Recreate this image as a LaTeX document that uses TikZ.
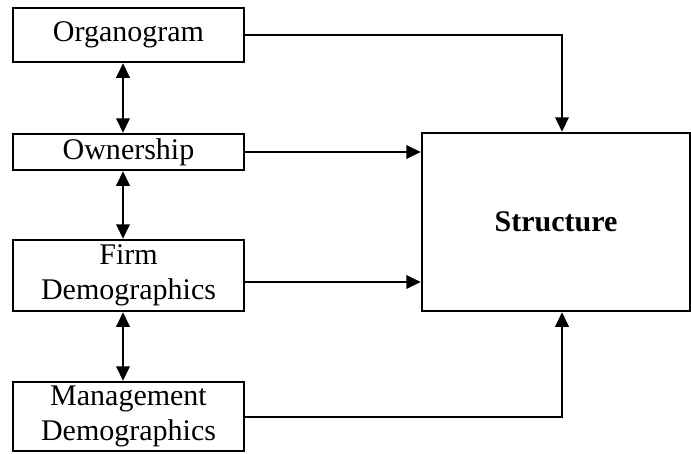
\documentclass[tikz,border=0pt]{standalone}
\usepackage{fontspec}
\setmainfont{Liberation Serif}
\usetikzlibrary{positioning, calc, arrows.meta}
\tikzset{
    block/.style={draw, line width=1pt, minimum width=92.4pt, inner sep=0pt, align=center, font=\fontsize{12}{13.8}\selectfont},
    link/.style={line width=0.8pt, ->, >={Triangle[length=5.8pt, width=5.4pt]}},
    both/.style={link, <->}
}

\begin{document}
\begin{tikzpicture}[x=0.4pt, y=-0.4pt]
        \useasboundingbox (0,0) rectangle (691,453);
        %Frames
        \node[block, minimum height=21.6pt] (org) at (128.5,35) {Organogram};
        \node[block, minimum height=14.4pt] (own) at (128.5,152) {Ownership};
        \node[block, minimum height=28.4pt] (firm) at (128.5,275.5) {Firm\\Demographics};
        \node[block, minimum height=27.6pt] (mgmt) at (128.5,416.5) {Management\\Demographics};
        \node[block, minimum width=107.2pt, minimum height=71.2pt, font=\fontsize{12}{13.8}\selectfont\bfseries] (str) at (556,222) {Structure};
        %Extra coordinates for path
        \coordinate (top) at ([xshift=2.4pt]str.north);
        \coordinate (bot) at ([xshift=2.4pt]str.south);
        %Paths (top-down)
        \draw[both] ([xshift=-2.2pt]org.south) -- ([xshift=-2.2pt]own.north);
        \draw[both] ([xshift=-2.2pt]own.south) -- ([xshift=-2.2pt]firm.north);
        \draw[both] ([xshift=-2.2pt]firm.south) -- ([xshift=-2.2pt]mgmt.north);
        \draw[link] (org.east) -| (top);
        \draw[link] (own.east) -- (own.east -| str.west);
        \draw[link] ([yshift=-2.6pt]firm.east) -- ([yshift=-2.6pt]firm.east -| str.west);
        \draw[link] (mgmt.east) -| (bot);
    \end{tikzpicture}
\end{document}
